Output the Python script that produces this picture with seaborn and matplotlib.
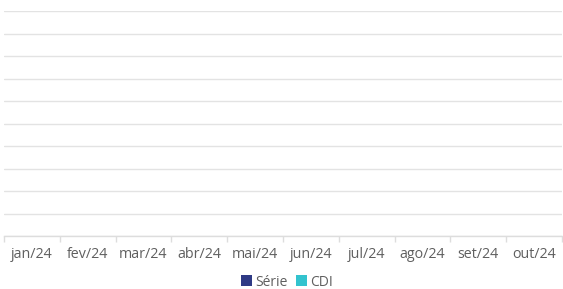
import numpy as np
import pandas as pd
import matplotlib
matplotlib.use("Agg")
import matplotlib.pyplot as plt
import seaborn as sns
from matplotlib.patches import Patch

categories = ["jan/24", "fev/24", "mar/24", "abr/24", "mai/24",
              "jun/24", "jul/24", "ago/24", "set/24", "out/24"]
serie_values = [np.nan] * len(categories)
cdi_values = [np.nan] * len(categories)
series_names = ["Série", "CDI"]
series_colors = ["#2f3a85", "#33c3ce"]

sns.set_theme(style="white")
plt.rcParams["font.family"] = ["Open Sans", "DejaVu Sans"]

df = pd.DataFrame({
    "mes": categories * 2,
    "valor": serie_values + cdi_values,
    "serie": [series_names[0]] * len(categories) + [series_names[1]] * len(categories),
})

fig = plt.figure(figsize=(5.63, 2.89), dpi=100)
ax = fig.add_axes([4 / 563, (289 - 236) / 289, 558 / 563, 225 / 289])

sns.barplot(data=df.dropna(), x="mes", y="valor", hue="serie",
            palette=series_colors, ax=ax, legend=False)

ax.set_xlim(-0.5, len(categories) - 0.5)
ax.set_ylim(0, 10)
ax.set_yticks(np.arange(0, 11, 1))
ax.set_yticklabels([])
ax.tick_params(axis="y", length=0)
ax.grid(axis="y", color="#e3e3e3", linewidth=1.0)
ax.set_axisbelow(True)

ax.set_xticks(np.arange(len(categories)))
ax.set_xticklabels(categories, color="#5f5f5f", fontsize=10.3)
ax.tick_params(axis="x", which="major", length=0, pad=8)
ax.set_xticks(np.arange(-0.5, len(categories), 1), minor=True)
ax.tick_params(axis="x", which="minor", length=4, width=1, color="#dddddd", bottom=True)

for s in ["top", "right", "left"]:
    ax.spines[s].set_visible(False)
ax.spines["bottom"].set_color("#dddddd")
ax.spines["bottom"].set_linewidth(1.0)
ax.set_xlabel("")
ax.set_ylabel("")

handles = [Patch(facecolor=c, edgecolor="none", label=n) for n, c in zip(series_names, series_colors)]
fig.legend(handles=handles, loc="center", bbox_to_anchor=(287 / 563, 1 - 282 / 289),
           ncol=2, frameon=False, fontsize=10, handlelength=0.8, handleheight=0.8,
           handletextpad=0.2, columnspacing=0.6, labelcolor="#5f5f5f")

fig.savefig("out.png", dpi=100)
